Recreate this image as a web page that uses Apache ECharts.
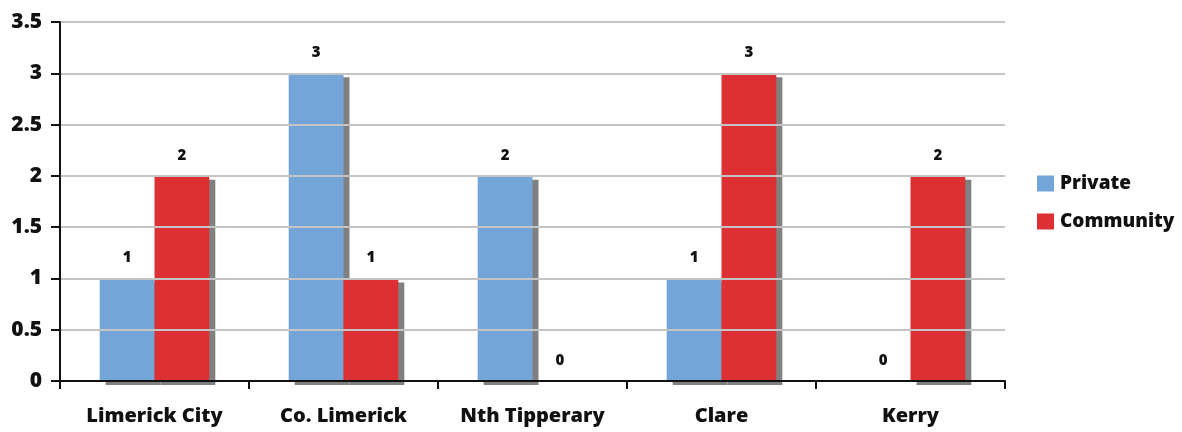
<!DOCTYPE html>
<html>
<head>
<meta charset="utf-8">
<script src="https://cdn.jsdelivr.net/npm/echarts@6/dist/echarts.min.js"></script>
<style>
  html, body { margin: 0; padding: 0; background: #fff; }
  #chart { width: 1182px; height: 432px; }
</style>
</head>
<body>
<div id="chart"></div>
<script>
// Counties / areas along the x axis
const categories = ['Limerick City', 'Co. Limerick', 'Nth Tipperary', 'Clare', 'Kerry'];
// Number of services per area
const privateValues = [1, 3, 2, 1, 0];
const communityValues = [2, 1, 0, 3, 2];
const yTicks = { min: 0, max: 3.5, interval: 0.5 };

const FONT = '"Open Sans", "Liberation Sans", sans-serif';
const WEIGHT = 800;

const barStyle = (color) => ({
  color: color,
  shadowColor: '#808080',
  shadowOffsetX: 6,
  shadowOffsetY: 4,
  shadowBlur: 0
});

const valueLabel = {
  show: true,
  position: 'top',
  distance: 13,
  color: '#111',
  fontFamily: FONT,
  fontWeight: WEIGHT,
  fontSize: 15
};

const chart = echarts.init(document.getElementById('chart'), null, { renderer: 'canvas' });
chart.setOption({
  animation: false,
  backgroundColor: '#ffffff',
  grid: { left: 60, right: 177, top: 22, bottom: 51, containLabel: false },
  legend: {
    orient: 'vertical',
    left: 1032,
    top: 169,
    itemWidth: 17,
    itemHeight: 16,
    itemGap: 19,
    icon: 'rect',
    textStyle: { fontFamily: FONT, fontWeight: WEIGHT, fontSize: 19, color: '#111', padding: [0, 0, 0, 1] },
    data: ['Private', 'Community']
  },
  xAxis: {
    type: 'category',
    data: categories,
    z: 5,
    axisLine: { lineStyle: { color: '#111', width: 2 } },
    axisTick: { show: true, length: 8, lineStyle: { color: '#111', width: 2 }, alignWithLabel: false },
    axisLabel: { margin: 25, color: '#111', fontFamily: FONT, fontWeight: WEIGHT, fontSize: 20 }
  },
  yAxis: {
    type: 'value',
    min: yTicks.min,
    max: yTicks.max,
    interval: yTicks.interval,
    z: 5,
    axisLine: { show: true, lineStyle: { color: '#111', width: 2 } },
    axisTick: { show: true, length: 9, lineStyle: { color: '#111', width: 2 } },
    axisLabel: { margin: 18, color: '#111', fontFamily: FONT, fontWeight: WEIGHT, fontSize: 21 },
    splitLine: { show: true, lineStyle: { color: '#c4c4c4', width: 2 } }
  },
  series: [
    {
      name: 'Private',
      type: 'bar',
      data: privateValues,
      barGap: '0%',
      barCategoryGap: '42%',
      itemStyle: barStyle('#73a5d8'),
      label: valueLabel
    },
    {
      name: 'Community',
      type: 'bar',
      data: communityValues,
      itemStyle: barStyle('#dc3035'),
      label: valueLabel
    }
  ]
});
</script>
</body>
</html>
